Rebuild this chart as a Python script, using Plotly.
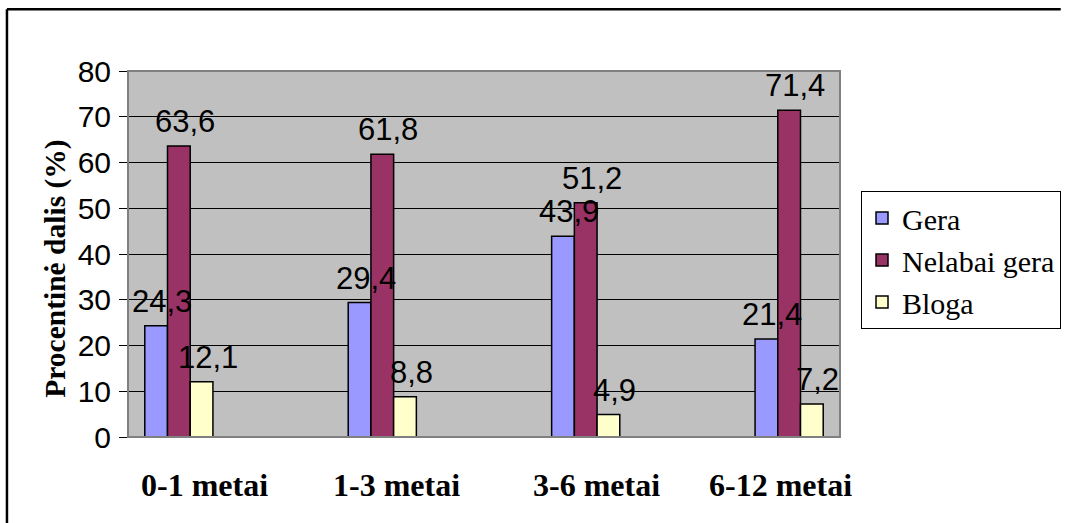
import plotly.graph_objects as go

# Data
categories = ["0-1 metai", "1-3 metai", "3-6 metai", "6-12 metai"]
gera = [24.3, 29.4, 43.9, 21.4]
nelabai_gera = [63.6, 61.8, 51.2, 71.4]
bloga = [12.1, 8.8, 4.9, 7.2]
series_names = ["Gera", "Nelabai gera", "Bloga"]
series_colors = ["#9999FF", "#993366", "#FFFFCC"]
y_ticks = [0, 10, 20, 30, 40, 50, 60, 70, 80]

series_values = [gera, nelabai_gera, bloga]
x_idx = list(range(len(categories)))

SERIF = "Liberation Serif"
SANS = "Liberation Sans"

BARGAP = 0.665
bar_w = (1 - BARGAP) / len(series_values)

fig = go.Figure()
for name, vals, col in zip(series_names, series_values, series_colors):
    fig.add_trace(go.Bar(
        x=x_idx, y=vals, name=name,
        marker=dict(color=col, line=dict(color="black", width=1.5)),
    ))

# value labels above each bar
annotations = []
for j, vals in enumerate(series_values):
    off = (j - 1) * bar_w
    for i, v in enumerate(vals):
        annotations.append(dict(
            x=i + off, y=v, xref="x", yref="y",
            text=f"{v:.1f}".replace(".", ","),
            showarrow=False, yanchor="bottom", xanchor="center",
            xshift=6, yshift=5,
            font=dict(family=SANS, size=31, color="black"),
        ))

# category labels under the plot area
label_shift = [26, 14, 11, -9]
for i, c in enumerate(categories):
    annotations.append(dict(
        x=i, y=-0.131, xref="x", yref="paper",
        text=f"<b>{c}</b>", showarrow=False,
        xanchor="center", yanchor="middle", xshift=label_shift[i],
        font=dict(family=SERIF, size=32, color="black"),
    ))

# y axis title
annotations.append(dict(
    x=-0.101, y=0.46, xref="paper", yref="paper",
    text="<b>Procentinė dalis (%)</b>", showarrow=False, textangle=-90,
    xanchor="center", yanchor="middle",
    font=dict(family=SERIF, size=29.5, color="black"),
))

shapes = [
    # plot area frame
    dict(type="rect", xref="paper", yref="paper", x0=0, x1=1, y0=0, y1=1,
         line=dict(color="#808080", width=2), layer="above"),
    # chart frame: left and top edges
    dict(type="line", xref="paper", yref="paper",
         x0=-0.170, x1=-0.170, y0=-0.235, y1=1.169,
         line=dict(color="black", width=2.5), layer="above"),
    dict(type="line", xref="paper", yref="paper",
         x0=-0.170, x1=1.31, y0=1.169, y1=1.169,
         line=dict(color="black", width=2.5), layer="above"),
]

fig.update_layout(
    width=1069, height=523,
    margin=dict(l=128, r=229, t=71, b=86, autoexpand=False),
    font=dict(family=SERIF, color="black"),
    paper_bgcolor="white", plot_bgcolor="#C0C0C0",
    barmode="group", bargap=BARGAP, bargroupgap=0,
    showlegend=True,
    legend=dict(
        x=1.0295, y=0.672, xanchor="left", yanchor="top",
        bgcolor="white", bordercolor="black", borderwidth=1,
        font=dict(family=SERIF, size=30, color="black"),
        itemclick=False, tracegroupgap=0, itemwidth=30,
    ),
    xaxis=dict(range=[-0.25, 3.25], showticklabels=False, showgrid=False,
               zeroline=False, ticks="", showline=False, fixedrange=True),
    yaxis=dict(range=[0, 80], tickvals=y_ticks, showgrid=True, gridcolor="black", gridwidth=1,
               zeroline=False, showline=True, linecolor="black", linewidth=1,
               ticks="outside", ticklen=8, tickcolor="black", tickwidth=1,
               tickfont=dict(family=SANS, size=30, color="black"),
               ticklabelstandoff=2),
    annotations=annotations,
    shapes=shapes,
)

fig.write_html("out.html")
